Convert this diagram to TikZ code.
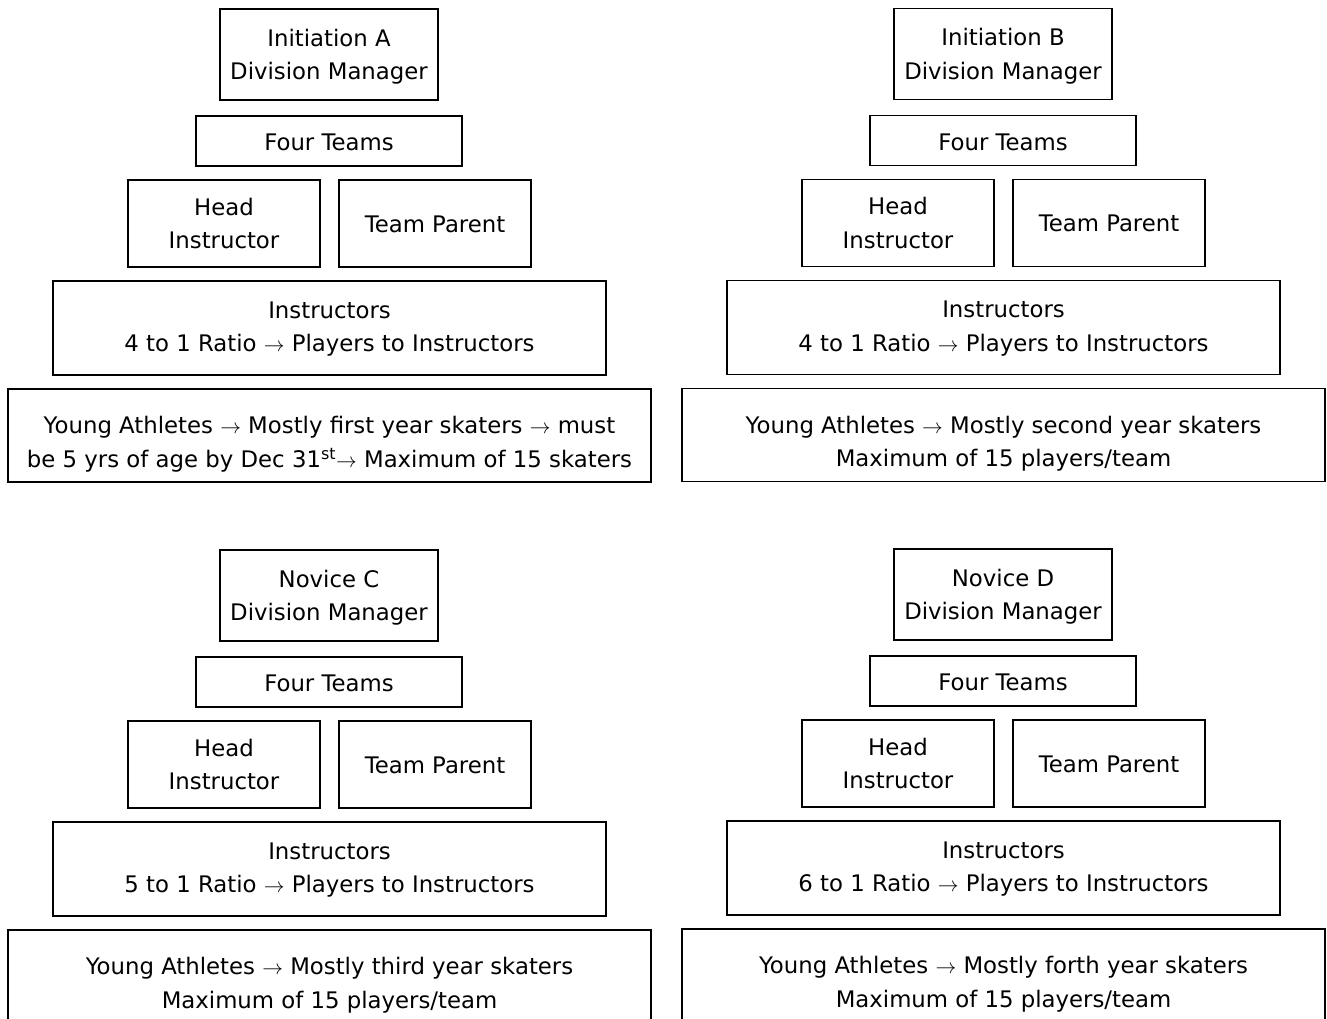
\documentclass[tikz,border=0pt]{standalone}
\usepackage{fontspec}
\setmainfont{DejaVu Sans}
\newcommand\sktext[2]{\raisebox{-#1}[\height][\depth]{\begin{tabular}{@{}c@{}}#2\end{tabular}}}
\begin{document}
\begin{tikzpicture}[x=1pt,y=-1pt,
  box/.style={draw, line width=1.6pt, inner sep=0pt,
    font=\fontsize{22.8}{33.5}\selectfont},
  mgrbox/.style={box, minimum width=218pt, minimum height=91pt},
  teambox/.style={box, minimum width=266pt, minimum height=50pt},
  rolebox/.style={box, minimum width=192pt, minimum height=87pt},
  instrbox/.style={box, minimum width=553pt, minimum height=94pt},
  youngbox/.style={box, minimum width=643pt, minimum height=93pt}]
\useasboundingbox (0,0) rectangle (1327,1018);
\clip (0,0) rectangle (1327,1018);
\newcommand\skpanel[6]{%
  \begin{scope}[shift={(#2,#3)}]
    \node[mgrbox] (#1mgr) at (329,54.5) {\sktext{2pt}{#4\\Division Manager}};
    \node[teambox] (#1teams) at (329,141) {\sktext{3pt}{Four Teams}};
    \node[rolebox] (#1head) at (224,223.5) {\sktext{2pt}{Head\\Instructor}};
    \node[rolebox] (#1parent) at (435,223.5) {\sktext{2pt}{Team Parent}};
    \node[instrbox] (#1instr) at (329.5,328) {\sktext{0.5pt}{Instructors\\#5 to 1 Ratio $\rightarrow$ Players to Instructors}};
    \node[youngbox] (#1young) at (329.5,435.5) {\sktext{8.5pt}{#6}};
  \end{scope}}
\skpanel{a}{0}{0}{Initiation A}{4}{Young Athletes $\rightarrow$ Mostly first year skaters $\rightarrow$ must\\be 5 yrs of age by Dec 31\textsuperscript{st}$\rightarrow$ Maximum of 15 skaters}
\skpanel{b}{674}{-0.5}{Initiation B}{4}{Young Athletes $\rightarrow$ Mostly second year skaters\\Maximum of 15 players/team}
\skpanel{c}{0}{541}{Novice C}{5}{Young Athletes $\rightarrow$ Mostly third year skaters\\Maximum of 15 players/team}
\skpanel{d}{674}{540}{Novice D}{6}{Young Athletes $\rightarrow$ Mostly forth year skaters\\Maximum of 15 players/team}
\end{tikzpicture}
\end{document}
